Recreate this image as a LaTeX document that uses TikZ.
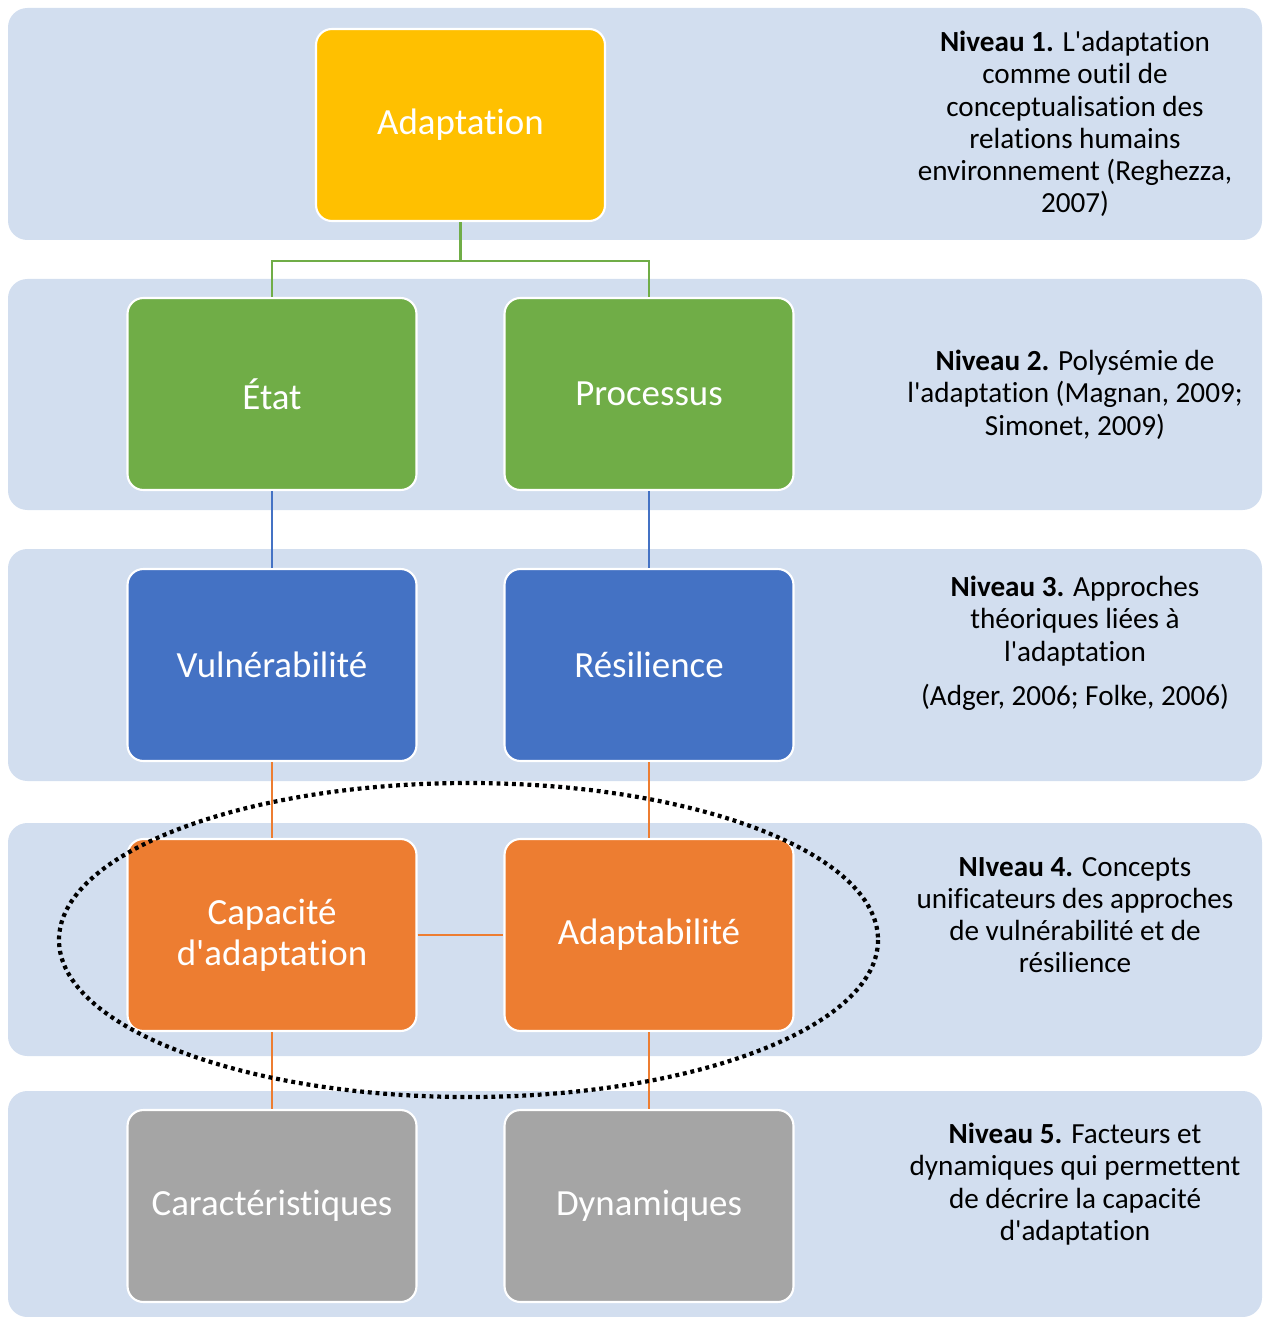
\documentclass[tikz,border=0pt]{standalone}
\usepackage{fontspec}
\setmainfont{Carlito}[Ligatures={TeXOff,CommonOff}]
\usetikzlibrary{positioning}
\definecolor{bandbg}{HTML}{D2DEEF}
\definecolor{gold}{HTML}{FFC000}
\definecolor{leaf}{HTML}{70AD47}
\definecolor{steel}{HTML}{4472C4}
\definecolor{tangerine}{HTML}{ED7D31}
\definecolor{ash}{HTML}{A5A5A5}

\begin{document}
\begin{tikzpicture}[
    x=0.02cm, y=-0.02cm,
    band/.style={fill=bandbg, rounded corners=11pt},
    box/.style={draw=white, line width=1.2pt, rounded corners=9pt,
      minimum width=5.78cm, minimum height=3.84cm, align=center,
      text=white, font=\fontsize{21}{23.2}\selectfont},
    level/.style={anchor=north, align=center, inner sep=0pt,
      font=\fontsize{16.6}{18.3}\selectfont},
    link/.style={line width=1.2pt}
]
  \useasboundingbox (0,0) rectangle (1263,1317);

  % bandes des niveaux
  \fill[band] (8,8) rectangle (1262,240);
  \fill[band] (8,279) rectangle (1262,510);
  \fill[band] (8,549) rectangle (1262,781);
  \fill[band] (8,823) rectangle (1262,1056);
  \fill[band] (8,1091) rectangle (1262,1317);

  % boites
  \node[box, fill=gold] (adapt) at (460.5,125) {Adaptation};
  \node[box, fill=leaf] (etat) at (272,394) {État};
  \node[box, fill=leaf] (proc) at (649,394) {Processus};
  \node[box, fill=steel] (vuln) at (272,665) {Vulnérabilité};
  \node[box, fill=steel] (resil) at (649,665) {Résilience};
  \node[box, fill=tangerine] (capa) at (272,935) {Capacité\\d'adaptation};
  \node[box, fill=tangerine] (adaptab) at (649,935) {Adaptabilité};
  \node[box, fill=ash] (carac) at (272,1206) {Caractéristiques};
  \node[box, fill=ash] (dyn) at (649,1206) {Dynamiques};

  % liaisons
  \draw[link, leaf] (adapt.south) -- ++(0,39) -| (etat.north);
  \draw[link, leaf] (adapt.south) -- ++(0,39) -| (proc.north);
  \draw[link, steel] (etat) -- (vuln);
  \draw[link, steel] (proc) -- (resil);
  \draw[link, tangerine] (vuln) -- (capa);
  \draw[link, tangerine] (resil) -- (adaptab);
  \draw[link, tangerine] (capa) -- (adaptab);
  \draw[link, tangerine] (capa) -- (carac);
  \draw[link, tangerine] (adaptab) -- (dyn);

  % textes des niveaux
  \node[level] (n1) at (1075,31) {\textbf{Niveau 1.} L'adaptation\\comme outil de\\conceptualisation des\\relations humains\\environnement (Reghezza,\\2007)};
  \node[level] (n2) at (1075,350) {\textbf{Niveau 2.} Polysémie de\\l'adaptation (Magnan, 2009;\\Simonet, 2009)};
  \node[level] (n3) at (1075,576) {\textbf{Niveau 3.} Approches\\théoriques liées à\\l'adaptation\\[7pt](Adger, 2006; Folke, 2006)};
  \node[level] (n4) at (1075,857) {\textbf{NIveau 4.} Concepts\\unificateurs des approches\\de vulnérabilité et de\\résilience};
  \node[level] (n5) at (1075,1123) {\textbf{Niveau 5.} Facteurs et\\dynamiques qui permettent\\de décrire la capacité\\d'adaptation};

  % ellipse en pointillés
  \draw[line width=2.4pt, dash pattern=on 2.2pt off 2.2pt] (468.5,940) ellipse [x radius=409.5, y radius=157];
\end{tikzpicture}
\end{document}
